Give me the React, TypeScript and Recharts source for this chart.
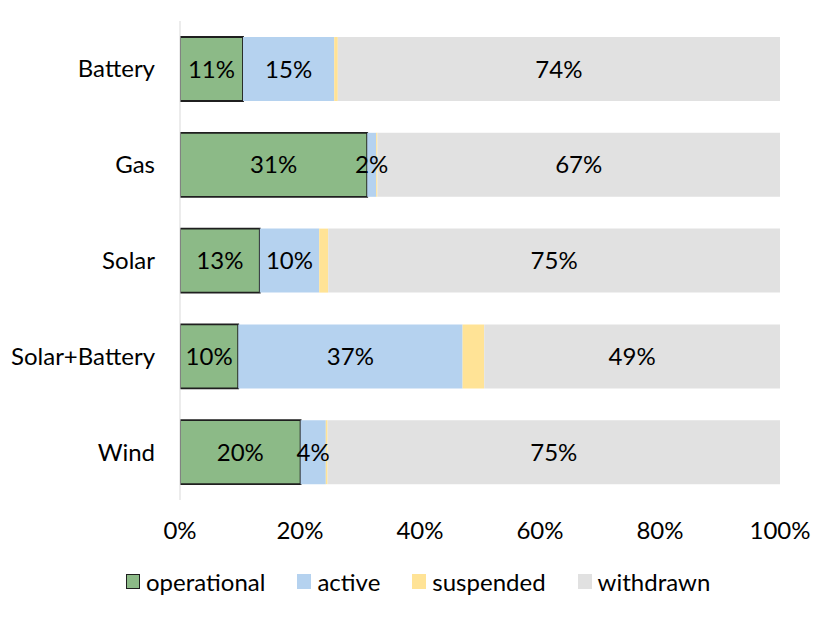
import React from "react";
import {
  BarChart,
  Bar,
  XAxis,
  YAxis,
  Legend,
  LabelList,
} from "recharts";

const categories = ["Battery", "Gas", "Solar", "Solar+Battery", "Wind"];
const operational = [10.5, 31.2, 13.3, 9.7, 20.1];
const active = [15.2, 1.5, 9.9, 37.4, 4.2];
const suspended = [0.6, 0.2, 1.5, 3.6, 0.3];
const withdrawn = [73.7, 67.1, 75.3, 49.3, 75.4];
const xTicks = [0, 20, 40, 60, 80, 100];

const FONT = "Lato, 'Open Sans', sans-serif";

const series = [
  { key: "operational", color: "#8cba87", stroke: "#1f1f1f", label: true },
  { key: "active", color: "#b5d2ef", stroke: "none", label: true },
  { key: "suspended", color: "#ffe396", stroke: "none", label: false },
  { key: "withdrawn", color: "#e1e1e1", stroke: "none", label: true },
];

const data = categories.map((name, i) => ({
  name,
  operational: operational[i],
  active: active[i],
  suspended: suspended[i],
  withdrawn: withdrawn[i],
}));

const fmt = (v: any) => `${Math.round(Number(v))}%`;

const LegendContent = () => (
  <div
    style={{
      height: 70,
      display: "flex",
      alignItems: "center",
      justifyContent: "flex-start",
      fontFamily: FONT,
      fontSize: 24,
      color: "#000",
      paddingLeft: 126,
      paddingBottom: 8,
      boxSizing: "border-box",
    }}
  >
    {series.map((s) => (
      <div
        key={s.key}
        style={{ display: "flex", alignItems: "center", marginRight: 32 }}
      >
        <span
          style={{
            display: "inline-block",
            width: 14,
            height: 15,
            background: s.color,
            border: s.stroke === "none" ? "none" : `1.5px solid ${s.stroke}`,
            boxSizing: "border-box",
            marginRight: 6,
          }}
        />
        <span>{s.key}</span>
      </div>
    ))}
  </div>
);

export default function App() {
  return (
    <div style={{ position: "fixed", left: 0, top: 0, background: "#fff" }}>
      <BarChart
        width={826}
        height={620}
        data={data}
        layout="vertical"
        margin={{ top: 21, right: 46, left: 0, bottom: 0 }}
        barSize={64}
      >
        <XAxis
          type="number"
          domain={[0, 100]}
          ticks={xTicks}
          tickFormatter={(v) => `${v}%`}
          axisLine={false}
          tickLine={false}
          tickMargin={16}
          height={50}
          tick={{ fontFamily: FONT, fontSize: 24, fill: "#000" }}
          allowDataOverflow
        />
        <YAxis
          type="category"
          dataKey="name"
          width={180}
          axisLine={{ stroke: "#d9d9d9", strokeWidth: 1 }}
          tickLine={false}
          tickMargin={19}
          tick={{ fontFamily: FONT, fontSize: 24, fill: "#000" }}
        />
        <Legend verticalAlign="bottom" content={<LegendContent />} />
        {series.map((s) => (
          <Bar
            key={s.key}
            dataKey={s.key}
            stackId="a"
            fill={s.color}
            stroke={s.stroke}
            strokeWidth={s.stroke === "none" ? 0 : 1.8}
            isAnimationActive={false}
          >
            {s.label && (
              <LabelList
                dataKey={s.key}
                position="center"
                formatter={fmt}
                style={{ fontFamily: FONT, fontSize: 24, fill: "#000" }}
              />
            )}
          </Bar>
        ))}
      </BarChart>
    </div>
  );
}
